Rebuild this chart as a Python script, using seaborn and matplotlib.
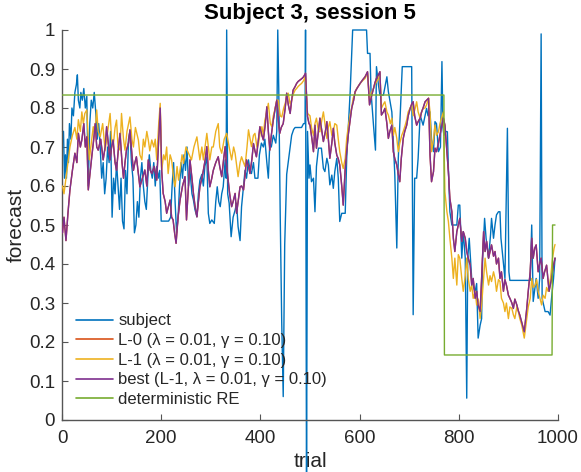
import matplotlib
matplotlib.use("Agg")
import matplotlib.pyplot as plt
import seaborn as sns

# ---------------- data ----------------
subject_trials = [1, 3, 5, 7, 9, 11, 13, 15, 18, 20, 23, 26, 29, 31, 33, 36, 38, 41, 44, 47, 50, 53, 56, 59, 62, 65, 68, 71, 74, 77,
                  80, 83, 86, 89, 92, 95, 98, 101, 104, 107, 110, 113, 116, 119, 122, 125, 128, 131, 134, 137, 140, 143, 146, 149,
                  152, 155, 158, 161, 164, 167, 170, 173, 176, 179, 182, 185, 188, 191, 194, 197, 200, 205, 210, 215, 219, 222, 225,
                  228, 231, 234, 237, 240, 243, 246, 249, 252, 255, 258, 262, 265, 268, 272, 275, 278, 282, 285, 288, 292, 295, 298,
                  302, 307, 310, 313, 316, 319, 322, 325, 329, 331, 332, 334, 337, 341, 345, 349, 352, 355, 359, 362, 366, 369, 372,
                  376, 379, 382, 386, 389, 395, 398, 402, 406, 409, 413, 416, 419, 422, 426, 431, 433, 435, 437, 440, 443, 446, 449,
                  453, 456, 460, 463, 467, 470, 483, 487, 490, 491, 493, 495, 498, 500, 503, 507, 510, 513, 517, 523, 527, 530, 534,
                  537, 540, 544, 547, 550, 554, 557, 560, 564, 571, 574, 581, 586, 614, 616, 621, 623, 628, 632, 634, 638, 641, 648,
                  655, 658, 661, 665, 668, 671, 675, 678, 681, 686, 705, 708, 711, 715, 718, 722, 728, 735, 738, 742, 745, 749, 752,
                  755, 759, 763, 766, 768, 770, 774, 777, 779, 782, 786, 796, 799, 802, 806, 809, 813, 816, 818, 821, 826, 830, 833,
                  836, 839, 843, 846, 848, 852, 855, 860, 864, 866, 870, 873, 876, 880, 883, 885, 889, 893, 896, 898, 901, 903, 944,
                  947, 950, 956, 960, 963, 966, 968, 974, 980, 984, 987, 991, 994]
subject_values = [0.74, 0.74, 0.62, 0.68, 0.62, 0.72, 0.66, 0.76, 0.72, 0.80, 0.78, 0.84, 0.86, 0.885, 0.82, 0.80, 0.84, 0.82, 0.85,
                  0.80, 0.83, 0.60, 0.76, 0.82, 0.80, 0.84, 0.79, 0.72, 0.76, 0.70, 0.62, 0.66, 0.58, 0.62, 0.70, 0.66, 0.74, 0.52,
                  0.62, 0.58, 0.66, 0.60, 0.54, 0.62, 0.51, 0.49, 0.64, 0.58, 0.72, 0.74, 0.66, 0.62, 0.48, 0.50, 0.56, 0.52, 0.62,
                  0.66, 0.60, 0.56, 0.54, 0.62, 0.68, 0.64, 0.62, 0.66, 0.60, 0.65, 0.62, 0.64, 0.51, 0.51, 0.51, 0.51, 0.52, 0.60,
                  0.66, 0.56, 0.48, 0.52, 0.60, 0.66, 0.62, 0.68, 0.64, 0.70, 0.60, 0.64, 0.58, 0.564, 0.54, 0.521, 0.58, 0.615,
                  0.63, 0.60, 0.65, 0.675, 0.53, 0.504, 0.513, 0.504, 0.56, 0.598, 0.56, 0.547, 0.58, 0.598, 0.667, 0.62, 1.0, 0.58,
                  0.556, 0.47, 0.52, 0.538, 0.556, 0.496, 0.46, 0.547, 0.60, 0.64, 0.62, 0.667, 0.64, 0.632, 0.66, 0.62, 0.62, 0.68,
                  0.71, 0.70, 0.72, 0.66, 0.62, 0.71, 0.70, 0.73, 0.71, 0.74, 1.0, 0.85, 0.52, 0.25, 0.06, 0.45, 0.63, 0.66, 0.70,
                  0.73, 0.745, 0.75, 0.75, 0.76, 0.76, 1.0, -0.2, 0.74, 0.62, 0.654, 0.611, 0.62, 0.534, 0.65, 0.697, 0.697, 0.645,
                  0.637, 0.671, 0.654, 0.603, 0.628, 0.594, 0.637, 0.671, 0.62, 0.509, 0.53, 0.53, 0.671, 0.842, 1.0, 1.0, 0.94,
                  0.94, 0.842, 0.756, 0.692, 0.906, 0.859, 0.833, 0.833, 0.88, 0.842, 0.82, 0.79, 0.714, 0.628, 0.441, 0.671, 0.756,
                  0.906, 0.906, 0.27, 0.62, 0.62, 0.671, 0.782, 0.756, 0.799, 0.78, 0.79, 0.72, 0.688, 0.765, 0.76, 0.688, 0.70,
                  0.919, 0.75, 0.73, 0.74, 0.739, 0.645, 0.534, 0.50, 0.50, 0.551, 0.551, 0.415, 0.483, 0.415, 0.056, 0.415, 0.466,
                  0.363, 0.34, 0.33, 0.35, 0.21, 0.243, 0.26, 0.415, 0.517, 0.466, 0.415, 0.475, 0.517, 0.466, 0.50, 0.526, 0.534,
                  0.534, 0.466, 0.415, 0.363, 0.585, 0.748, 0.38, 0.358, 0.358, 0.50, 0.304, 0.363, 0.312, 0.363, 0.99, 0.312,
                  0.278, 0.278, 0.269, 0.312, 0.363, 0.415]

l1_trials = [1, 4, 8, 12, 16, 21, 26, 30, 33, 37, 40, 43, 46, 50, 55, 59, 63, 66, 70, 73, 77, 82, 87, 92, 97, 100, 103, 107, 110,
             113, 117, 120, 124, 127, 131, 137, 141, 144, 148, 154, 157, 161, 164, 167, 171, 174, 177, 181, 185, 188, 191, 195, 198,
             201, 205, 208, 211, 214, 218, 221, 225, 228, 232, 235, 238, 242, 245, 250, 255, 261, 266, 272, 278, 282, 285, 292, 298,
             302, 305, 310, 315, 318, 322, 327, 332, 337, 342, 346, 349, 355, 359, 362, 366, 369, 373, 376, 382, 386, 389, 393, 396,
             400, 403, 406, 409, 413, 416, 420, 423, 426, 429, 433, 436, 440, 443, 447, 450, 453, 456, 460, 463, 466, 470, 473, 476,
             480, 483, 487, 490, 495, 500, 503, 507, 510, 513, 517, 520, 524, 527, 531, 534, 537, 540, 544, 547, 550, 554, 557, 560,
             564, 567, 571, 574, 578, 581, 584, 587, 591, 594, 598, 601, 606, 611, 616, 620, 624, 628, 631, 634, 638, 641, 644, 648,
             651, 655, 658, 662, 665, 668, 671, 675, 678, 681, 685, 688, 692, 695, 698, 702, 705, 708, 712, 715, 718, 722, 725, 728,
             732, 735, 739, 742, 745, 749, 752, 755, 759, 762, 765, 769, 772, 776, 779, 782, 786, 789, 792, 796, 799, 802, 806, 809,
             813, 816, 819, 823, 826, 829, 833, 836, 839, 843, 846, 850, 853, 856, 860, 863, 866, 870, 873, 876, 880, 883, 886, 890,
             893, 896, 900, 903, 907, 910, 913, 917, 920, 923, 927, 932, 937, 940, 944, 947, 950, 954, 957, 960, 964, 967, 970, 974,
             977, 980, 983, 985, 989, 992, 994]
l1_values = [0.60, 0.58, 0.62, 0.66, 0.70, 0.73, 0.75, 0.72, 0.77, 0.74, 0.79, 0.76, 0.786, 0.795, 0.667, 0.71, 0.752, 0.73, 0.795,
             0.74, 0.726, 0.76, 0.692, 0.74, 0.786, 0.72, 0.70, 0.75, 0.769, 0.70, 0.692, 0.786, 0.72, 0.692, 0.74, 0.777, 0.72,
             0.70, 0.75, 0.718, 0.68, 0.667, 0.72, 0.70, 0.74, 0.718, 0.69, 0.718, 0.70, 0.72, 0.667, 0.76, 0.812, 0.64, 0.68,
             0.667, 0.70, 0.632, 0.68, 0.667, 0.62, 0.598, 0.65, 0.615, 0.64, 0.68, 0.658, 0.70, 0.684, 0.667, 0.70, 0.726, 0.667,
             0.70, 0.667, 0.735, 0.667, 0.70, 0.70, 0.74, 0.76, 0.70, 0.684, 0.72, 0.735, 0.70, 0.667, 0.70, 0.684, 0.624, 0.66,
             0.675, 0.66, 0.65, 0.70, 0.744, 0.701, 0.73, 0.735, 0.70, 0.709, 0.74, 0.752, 0.73, 0.769, 0.79, 0.812, 0.76, 0.752,
             0.78, 0.795, 0.82, 0.82, 0.78, 0.777, 0.80, 0.812, 0.83, 0.838, 0.81, 0.82, 0.835, 0.846, 0.85, 0.855, 0.86, 0.863,
             0.87, 0.88, 0.786, 0.78, 0.75, 0.73, 0.76, 0.774, 0.74, 0.739, 0.77, 0.79, 0.75, 0.722, 0.75, 0.765, 0.73, 0.739,
             0.76, 0.756, 0.72, 0.688, 0.66, 0.645, 0.671, 0.722, 0.76, 0.782, 0.80, 0.825, 0.84, 0.85, 0.857, 0.863, 0.87, 0.876,
             0.889, 0.825, 0.84, 0.85, 0.86, 0.867, 0.875, 0.885, 0.799, 0.81, 0.816, 0.79, 0.782, 0.76, 0.774, 0.73, 0.75, 0.722,
             0.688, 0.71, 0.73, 0.74, 0.756, 0.77, 0.79, 0.80, 0.808, 0.78, 0.799, 0.816, 0.79, 0.774, 0.79, 0.799, 0.80, 0.808,
             0.825, 0.79, 0.688, 0.72, 0.756, 0.73, 0.739, 0.76, 0.774, 0.79, 0.585, 0.534, 0.509, 0.466, 0.415, 0.363, 0.415,
             0.346, 0.424, 0.415, 0.363, 0.33, 0.37, 0.415, 0.363, 0.33, 0.346, 0.312, 0.33, 0.295, 0.31, 0.26, 0.295, 0.363,
             0.415, 0.38, 0.346, 0.37, 0.355, 0.38, 0.363, 0.33, 0.36, 0.355, 0.312, 0.30, 0.278, 0.30, 0.26, 0.29, 0.286, 0.27,
             0.26, 0.29, 0.278, 0.26, 0.243, 0.21, 0.26, 0.29, 0.312, 0.363, 0.34, 0.346, 0.36, 0.33, 0.31, 0.295, 0.32, 0.312,
             0.34, 0.33, 0.35, 0.363, 0.415, 0.44, 0.45]

best_trials = [1, 4, 8, 12, 16, 21, 26, 30, 33, 37, 40, 44, 47, 50, 53, 57, 60, 64, 67, 70, 73, 78, 83, 87, 90, 94, 97, 100, 103,
               107, 110, 114, 117, 121, 124, 127, 130, 134, 137, 141, 144, 147, 150, 154, 157, 162, 167, 171, 174, 178, 181, 186,
               191, 195, 198, 201, 204, 208, 211, 215, 218, 221, 224, 227, 230, 234, 238, 243, 248, 251, 255, 258, 262, 265, 268,
               272, 275, 278, 282, 285, 289, 292, 295, 298, 302, 305, 310, 315, 318, 322, 326, 329, 332, 335, 338, 342, 345, 349,
               352, 355, 359, 362, 366, 369, 372, 376, 379, 383, 386, 389, 392, 396, 399, 403, 406, 410, 413, 416, 419, 422, 426,
               430, 433, 436, 439, 442, 446, 450, 453, 456, 460, 463, 466, 470, 473, 476, 480, 484, 487, 491, 495, 498, 500, 504,
               507, 510, 513, 517, 520, 524, 527, 531, 534, 537, 540, 544, 547, 550, 554, 557, 560, 564, 567, 571, 574, 577, 581,
               584, 588, 591, 596, 601, 606, 611, 616, 620, 624, 628, 631, 634, 638, 641, 644, 648, 651, 655, 658, 661, 665, 668,
               671, 675, 678, 681, 684, 688, 691, 695, 698, 702, 705, 708, 711, 715, 718, 722, 725, 728, 732, 735, 739, 742, 745,
               749, 752, 755, 759, 762, 765, 769, 772, 776, 779, 782, 786, 789, 792, 796, 799, 802, 806, 809, 813, 816, 819, 823,
               826, 829, 833, 836, 839, 843, 846, 850, 853, 856, 860, 863, 866, 870, 873, 876, 880, 883, 886, 890, 893, 896, 900,
               903, 907, 910, 913, 917, 920, 923, 927, 932, 937, 940, 944, 947, 950, 953, 956, 960, 963, 966, 970, 973, 977, 982,
               985, 987, 991, 994]
best_values = [0.48, 0.52, 0.46, 0.53, 0.59, 0.64, 0.684, 0.66, 0.735, 0.70, 0.718, 0.76, 0.70, 0.726, 0.59, 0.64, 0.675, 0.72,
               0.76, 0.70, 0.692, 0.72, 0.667, 0.70, 0.752, 0.70, 0.667, 0.70, 0.718, 0.66, 0.64, 0.70, 0.735, 0.66, 0.62, 0.66,
               0.692, 0.71, 0.744, 0.68, 0.64, 0.66, 0.675, 0.63, 0.598, 0.62, 0.641, 0.60, 0.667, 0.64, 0.632, 0.65, 0.615, 0.72,
               0.80, 0.64, 0.581, 0.56, 0.53, 0.55, 0.564, 0.52, 0.513, 0.48, 0.453, 0.52, 0.564, 0.60, 0.624, 0.513, 0.60, 0.667,
               0.62, 0.581, 0.55, 0.521, 0.56, 0.598, 0.62, 0.64, 0.67, 0.701, 0.64, 0.598, 0.62, 0.64, 0.66, 0.675, 0.65, 0.624,
               0.67, 0.701, 0.65, 0.615, 0.58, 0.547, 0.56, 0.581, 0.53, 0.56, 0.598, 0.60, 0.59, 0.63, 0.667, 0.65, 0.632, 0.67,
               0.709, 0.69, 0.675, 0.72, 0.752, 0.73, 0.718, 0.76, 0.803, 0.74, 0.692, 0.73, 0.769, 0.80, 0.82, 0.77, 0.735, 0.75,
               0.76, 0.80, 0.838, 0.81, 0.786, 0.82, 0.846, 0.855, 0.863, 0.868, 0.872, 0.876, 0.88, 0.889, 0.778, 0.76, 0.756,
               0.72, 0.688, 0.756, 0.697, 0.74, 0.774, 0.74, 0.714, 0.74, 0.765, 0.72, 0.671, 0.71, 0.748, 0.71, 0.679, 0.67,
               0.654, 0.60, 0.551, 0.645, 0.69, 0.73, 0.77, 0.799, 0.82, 0.842, 0.853, 0.863, 0.872, 0.88, 0.893, 0.808, 0.83,
               0.85, 0.865, 0.876, 0.885, 0.893, 0.782, 0.79, 0.799, 0.76, 0.722, 0.74, 0.756, 0.688, 0.67, 0.654, 0.63, 0.611,
               0.67, 0.722, 0.74, 0.756, 0.78, 0.799, 0.81, 0.816, 0.78, 0.756, 0.765, 0.774, 0.79, 0.80, 0.816, 0.82, 0.825,
               0.679, 0.611, 0.637, 0.697, 0.688, 0.71, 0.73, 0.75, 0.774, 0.756, 0.688, 0.637, 0.568, 0.534, 0.466, 0.432, 0.483,
               0.50, 0.517, 0.458, 0.483, 0.466, 0.432, 0.415, 0.397, 0.346, 0.363, 0.312, 0.33, 0.295, 0.278, 0.363, 0.483,
               0.432, 0.458, 0.415, 0.432, 0.449, 0.42, 0.432, 0.40, 0.415, 0.363, 0.38, 0.33, 0.36, 0.346, 0.32, 0.312, 0.30,
               0.286, 0.31, 0.295, 0.28, 0.269, 0.25, 0.226, 0.286, 0.33, 0.38, 0.466, 0.415, 0.44, 0.449, 0.38, 0.40, 0.415,
               0.363, 0.38, 0.397, 0.33, 0.35, 0.363, 0.397, 0.415]

# L-0 lies underneath the best fit in the reference (same model values)
l0_trials = best_trials
l0_values = best_values

re_trials = [1, 770, 771, 988, 989, 994]
re_values = [0.8333, 0.8333, 0.1667, 0.1667, 0.5, 0.5]

labels = ["subject",
          "L-0 (\u03bb = 0.01, \u03b3 = 0.10)",
          "L-1 (\u03bb = 0.01, \u03b3 = 0.10)",
          "best (L-1, \u03bb = 0.01, \u03b3 = 0.10)",
          "deterministic RE"]
colors = ["#0072BD", "#D95319", "#EDB120", "#7E2F8E", "#77AC30"]

yticks = [0, 0.1, 0.2, 0.3, 0.4, 0.5, 0.6, 0.7, 0.8, 0.9, 1.0]
ytick_labels = ["0", "0.1", "0.2", "0.3", "0.4", "0.5", "0.6", "0.7", "0.8", "0.9", "1"]
xticks = [0, 200, 400, 600, 800, 1000]
xtick_labels = ["0", "200", "400", "600", "800", "1000"]

# ---------------- figure ----------------
sns.set_style("ticks")
plt.rcParams["font.family"] = ["Liberation Sans", "DejaVu Sans"]

fig = plt.figure(figsize=(5.81, 4.72), dpi=100)
ax = fig.add_axes([62 / 581, 52 / 472, 496 / 581, 390 / 472])

series = [(subject_trials, subject_values), (l0_trials, l0_values), (l1_trials, l1_values),
          (best_trials, best_values), (re_trials, re_values)]
for i, ((xs, ys), lab, col) in enumerate(zip(series, labels, colors)):
    sns.lineplot(x=xs, y=ys, ax=ax, color=col, linewidth=1.0, estimator=None, sort=False,
                 label=lab, clip_on=(i != 0), zorder=2 + i)

ax.set_xlim(0, 1000)
ax.set_ylim(0, 1)
ax.set_xticks(xticks)
ax.set_xticklabels(xtick_labels)
ax.set_yticks(yticks)
ax.set_yticklabels(ytick_labels)

axis_col = "#262626"
for side in ["top", "right"]:
    ax.spines[side].set_visible(False)
for side in ["left", "bottom"]:
    ax.spines[side].set_color("#555555")
    ax.spines[side].set_linewidth(1.0)
ax.tick_params(direction="in", length=4, width=0.8, colors="#555555", labelcolor=axis_col, labelsize=13.5)
ax.tick_params(axis="y", pad=5)
ax.tick_params(axis="x", pad=7)

ax.set_xlabel("trial", fontsize=15, color=axis_col, labelpad=4)
ax.set_ylabel("forecast", fontsize=15, color=axis_col, labelpad=2)
ax.set_title("Subject 3, session 5", fontsize=16, fontweight="bold", color="black", pad=8)

leg = ax.legend(loc="lower left", bbox_to_anchor=(0.028, 0.033), frameon=False, fontsize=12,
                handlelength=2.2, handletextpad=0.35, labelspacing=0.28, borderaxespad=0, borderpad=0)
for t in leg.get_texts():
    t.set_color(axis_col)
for h in leg.get_lines():
    h.set_linewidth(1.2)

fig.savefig("out.png", dpi=100)
